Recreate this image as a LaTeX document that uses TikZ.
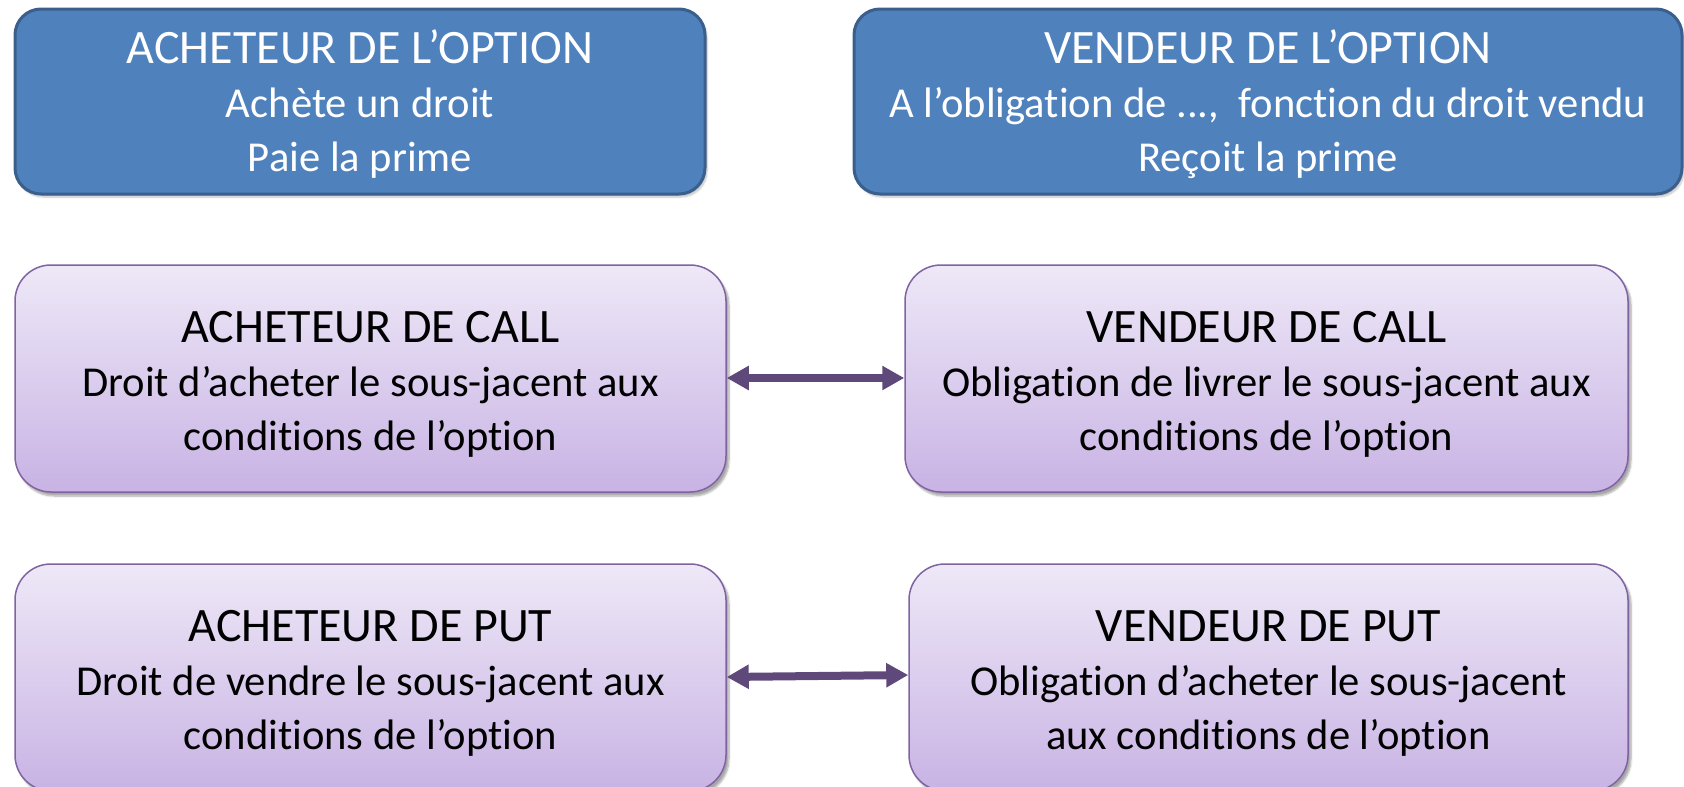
\documentclass[tikz,border=0pt]{standalone}
\usepackage{fontspec}
\setmainfont[Ligatures={NoCommon}]{Carlito}
\usetikzlibrary{arrows.meta,shadows.blur}
\definecolor{topfill}{HTML}{4F81BD}
\definecolor{topdraw}{HTML}{3A5F8C}
\definecolor{ptop}{HTML}{EEE8F7}
\definecolor{pbot}{HTML}{C8B3E4}
\definecolor{pdraw}{HTML}{8064A2}
\definecolor{arrcol}{HTML}{5F497A}
\newcommand{\hd}[1]{{\fontsize{48}{54}\selectfont #1}}
\tikzset{
  topbox/.style={rounded corners=26pt, fill=topfill, draw=topdraw, line width=3pt, inner sep=0pt,
    blur shadow={shadow xshift=2pt, shadow yshift=-3pt, shadow opacity=25, shadow blur steps=6}},
  purbox/.style={rounded corners=36pt, top color=ptop, bottom color=pbot, draw=pdraw, line width=1.5pt, inner sep=0pt,
    blur shadow={shadow xshift=3pt, shadow yshift=-4pt, shadow opacity=35, shadow blur steps=6}},
  toptext/.style={text=white, align=center, font=\fontsize{42.6}{54}\selectfont, inner sep=0pt},
  purtext/.style={text=black, align=center, font=\fontsize{42.6}{54}\selectfont, inner sep=0pt},
  dblarrow/.style={draw=arrcol, line width=8pt, {Triangle[width=23pt,length=22pt]}-{Triangle[width=23pt,length=22pt]}}
}
\begin{document}
\begin{tikzpicture}[x=1pt,y=-1pt]
\useasboundingbox (0,0) rectangle (1684,787);
\clip (0,0) rectangle (1684,787);
\node[topbox, minimum width=690pt, minimum height=185pt] (ao) at (360,101.5) {};
\node[toptext] (aoT) at ([yshift=-3pt]ao.center)
  {\hd{ACHETEUR DE L’OPTION}\\Achète un droit\\Paie la prime};
\node[topbox, minimum width=828pt, minimum height=185pt] (vo) at (1268,101.5) {};
\node[toptext] (voT) at ([yshift=-3pt]vo.center)
  {\hd{VENDEUR DE L’OPTION}\\A l’obligation de ...,\ \ fonction du droit vendu\\Reçoit la prime};
\node[purbox, minimum width=711pt, minimum height=227pt] (ac) at (370.5,378.5) {};
\node[purtext] (acT) at ([yshift=-6pt]ac.center)
  {\hd{ACHETEUR DE CALL}\\Droit d’acheter le sous-jacent aux\\conditions de l’option};
\node[purbox, minimum width=723pt, minimum height=227pt] (vc) at (1266.5,378.5) {};
\node[purtext] (vcT) at ([yshift=-6pt]vc.center)
  {\hd{VENDEUR DE CALL}\\Obligation de livrer le sous-jacent aux\\conditions de l’option};
\node[purbox, minimum width=711pt, minimum height=227pt] (ap) at (370.5,677.5) {};
\node[purtext] (apT) at ([yshift=-6pt]ap.center)
  {\hd{ACHETEUR DE PUT}\\Droit de vendre le sous-jacent aux\\conditions de l’option};
\node[purbox, minimum width=719pt, minimum height=227pt] (vp) at (1268.5,677.5) {};
\node[purtext] (vpT) at ([yshift=-6pt]vp.center)
  {\hd{VENDEUR DE PUT}\\Obligation d’acheter le sous-jacent\\aux conditions de l’option};
\draw[dblarrow] ([yshift=0.5pt]ac.east) -- ([yshift=0.5pt]vc.west);
\draw[dblarrow] ([yshift=0.5pt]ap.east) -- ([yshift=2.5pt]vp.west);
\end{tikzpicture}
\end{document}
